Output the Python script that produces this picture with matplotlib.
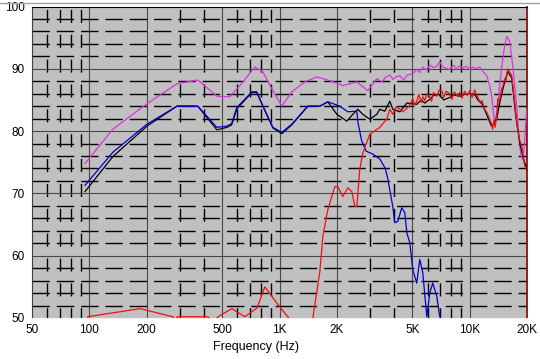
import matplotlib
matplotlib.use('Agg')
import matplotlib.pyplot as plt
from matplotlib.lines import Line2D
from matplotlib.ticker import FixedLocator, NullLocator

plt.rcParams['font.family'] = ['Liberation Sans', 'DejaVu Sans']
plt.rcParams['lines.scale_dashes'] = False

# tick positions / labels
x_ticks = [50, 100, 200, 500, 1000, 2000, 5000, 10000, 20000]
x_labels = ['50', '100', '200', '500', '1K', '2K', '5K', '10K', '20K']
y_ticks = [50, 60, 70, 80, 90, 100]
x_major_grid = [100, 200, 500, 1000, 2000, 5000, 10000]
x_minor_grid = [60, 70, 80, 90, 300, 400, 600, 700, 800, 900,
                3000, 4000, 6000, 7000, 8000, 9000]
y_major_grid = [60, 70, 80, 90]
y_minor_grid = [52, 54, 56, 58, 62, 64, 66, 68, 72, 74, 76, 78,
                82, 84, 86, 88, 92, 94, 96, 98]

# magenta (sum)
mag_f = [95, 133, 201, 289, 372, 469, 548, 597, 619, 742, 818, 911, 1029,
         1160, 1359, 1572, 1839, 2152, 2549, 2912, 3100, 3247, 3450, 3600,
         3800, 3950, 4100, 4289, 4500, 4700, 5019, 5250, 5450, 5665, 5900,
         6150, 6450, 6700, 6957, 7200, 7500, 7850, 8200, 8500, 8864, 9200,
         9600, 10000, 10400, 10800, 11285, 11700, 12286, 12700, 13050, 13300,
         13530, 13700, 13860, 14100, 14380, 14800, 15200, 15650, 15900, 16225,
         16820, 17660, 18300, 18650, 18990, 19400, 19930]
mag_db = [74.8, 80.3, 84.4, 87.6, 88.2, 85.6, 85.5, 86.8, 87.3, 90.3, 89.5,
          86.8, 84.0, 86.3, 87.9, 88.7, 88.1, 87.3, 87.9, 86.5, 87.6, 88.4,
          87.9, 88.6, 89.0, 88.3, 88.7, 88.9, 88.2, 89.0, 89.2, 89.9, 89.4,
          90.3, 89.8, 90.6, 90.2, 90.4, 91.1, 90.3, 90.1, 89.9, 90.6, 90.0,
          90.5, 90.1, 90.4, 89.9, 90.3, 90.0, 90.3, 89.6, 88.9, 87.4, 85.6,
          83.2, 81.5, 82.4, 81.7, 84.6, 87.3, 90.8, 93.4, 95.2, 94.9, 94.4,
          90.5, 84.0, 77.6, 76.0, 75.5, 78.0, 83.5]

# blue (woofer)
blue_f = [95, 133, 201, 289, 372, 469, 529, 560, 597, 716, 760, 818, 923,
          1029, 1160, 1409, 1629, 1795, 2075, 2287, 2549, 2580, 2700, 2850,
          3100, 3370, 3600, 3710, 3940, 4035, 4185, 4393, 4557, 4668, 4840,
          5020, 5267, 5460, 5665, 5946, 6165, 6390, 6708, 6957]
blue_db = [71.3, 76.6, 81.1, 84.0, 84.0, 80.6, 80.8, 81.2, 83.8, 86.3, 86.3,
           84.0, 80.6, 79.8, 81.1, 84.0, 84.0, 84.7, 84.0, 83.1, 83.2, 81.5,
           78.5, 76.8, 76.3, 75.5, 74.0, 72.3, 67.9, 65.3, 65.5, 67.7, 66.9,
           63.7, 62.1, 57.7, 55.6, 59.4, 57.3, 50.2, 54.0, 55.6, 53.5, 50.2]

# black (measured total)
blk_f = [95, 133, 201, 289, 372, 469, 529, 560, 597, 716, 760, 818, 923,
         1029, 1160, 1409, 1629, 1795, 2002, 2259, 2429, 2580, 2742, 2983,
         3247, 3366, 3577, 3800, 3940, 4289, 4668, 4950, 5267, 5550, 5800,
         6165, 6450, 6900, 7300, 7850, 8300, 8864, 9400, 10000, 10600, 11100,
         11600, 12300, 13000, 13400, 13860, 14300, 15000, 15840, 16620, 17500,
         18300, 19100, 20000]
blk_db = [70.3, 75.9, 80.8, 84.0, 84.0, 80.2, 80.6, 81.0, 83.6, 86.2, 86.2,
          84.0, 80.5, 79.6, 81.0, 84.0, 84.0, 84.7, 82.7, 81.6, 82.7, 83.5,
          82.7, 81.9, 82.7, 83.5, 83.2, 84.8, 83.5, 83.1, 84.5, 84.4, 84.3,
          85.0, 84.5, 85.1, 85.7, 85.9, 85.0, 85.4, 85.8, 85.6, 85.9, 86.0,
          85.9, 84.9, 84.4, 82.6, 80.8, 81.2, 82.0, 84.2, 87.0, 89.6, 88.5,
          82.2, 78.2, 75.7, 73.8]

# red (tweeter)
red_f = [98, 185, 275, 282, 290, 420, 445, 486, 562, 657, 761, 837, 968,
         1106, 1250, 1400, 1497, 1629, 1690, 1795, 1954, 2025, 2152, 2287,
         2400, 2490, 2549, 2643, 2742, 2983, 3366, 3663, 3800, 3940, 4100,
         4450, 4800, 5020, 5150, 5267, 5400, 5550, 5665, 5800, 5950, 6165,
         6300, 6450, 6708, 6900, 7126, 7300, 7500, 7850, 8050, 8300, 8600,
         8864, 9100, 9400, 9700, 10000, 10300, 10600, 10885, 11100, 11285,
         11600, 11990, 12300, 12740, 13000, 13200, 13400, 13600, 13860, 14036,
         14300, 14730, 15000, 15275, 15500, 15840, 16200, 16620, 16900, 17235,
         17500, 17880, 18300, 18750, 19100, 19450, 20000]
red_db = [50.2, 51.5, 50.2, 49.6, 50.2, 50.2, 49.5, 50.4, 51.5, 50.2, 51.6,
          55.0, 52.4, 50.2, 48.0, 46.0, 50.0, 57.4, 63.1, 67.4, 71.1, 71.1,
          69.5, 70.9, 70.3, 67.9, 67.9, 73.9, 76.5, 79.5, 80.6, 81.9, 83.5,
          82.7, 83.9, 83.1, 84.0, 85.2, 84.2, 84.8, 85.9, 84.6, 85.5, 84.9,
          86.0, 85.5, 84.8, 86.2, 85.6, 86.6, 86.5, 85.4, 86.4, 86.0, 85.1,
          86.3, 85.6, 86.2, 85.3, 86.4, 85.7, 86.5, 85.4, 86.6, 85.8, 85.3,
          84.7, 84.9, 83.5, 83.0, 81.9, 81.2, 80.3, 81.8, 80.6, 82.5, 85.2,
          84.7, 86.8, 87.4, 88.4, 88.0, 90.0, 89.5, 88.9, 87.0, 84.7, 82.5,
          80.3, 78.6, 77.6, 76.0, 74.4, 74.0]

fig = plt.figure(figsize=(5.4, 3.59), dpi=100)
ax = fig.add_axes([32 / 540, 41 / 359, 495 / 540, 311.5 / 359])
ax.set_facecolor('#c0c0c0')
ax.set_xscale('log')
ax.set_xlim(50, 20000)
ax.set_ylim(50, 100)

# grid
for f in x_major_grid:
    ax.axvline(f, color='#484848', lw=0.8, zorder=1)
for f in x_minor_grid:
    ax.axvline(f, color='black', lw=1.0, linestyle=(2, (9.4, 8.5)), zorder=1)
for v in y_major_grid:
    ax.axhline(v, color='#484848', lw=0.8, zorder=1)
for v in y_minor_grid:
    ax.axhline(v, color='black', lw=1.0, linestyle=(0, (12.5, 5.0)), zorder=1)

ax.plot(mag_f, mag_db, color='#e030e0', lw=0.9, zorder=3)
ax.plot(blk_f, blk_db, color='black', lw=0.9, zorder=4)
ax.plot(blue_f, blue_db, color='#0000d0', lw=0.9, zorder=5)
ax.plot(red_f, red_db, color='#ee1010', lw=0.9, zorder=6)

ax.xaxis.set_major_locator(FixedLocator(x_ticks))
ax.xaxis.set_minor_locator(NullLocator())
ax.set_xticklabels(x_labels)
ax.set_yticks(y_ticks)
ax.tick_params(axis='both', length=0, labelsize=8.5)
ax.tick_params(axis='x', pad=4)
ax.tick_params(axis='y', pad=5)

ax.set_xlabel('Frequency (Hz)', fontsize=9)
ax.xaxis.set_label_coords(0.4525, -0.075)

ax.spines['top'].set_color('black')
ax.spines['left'].set_color('#404040')
ax.spines['bottom'].set_color('#f0f0f0')
ax.spines['right'].set_color('#800000')
ax.spines['right'].set_linewidth(1.2)

fig.add_artist(Line2D([0, 1], [1 - 2.5 / 359, 1 - 2.5 / 359],
                      transform=fig.transFigure, color='#a0a0a0', lw=1))

fig.savefig('out.png', dpi=100)
